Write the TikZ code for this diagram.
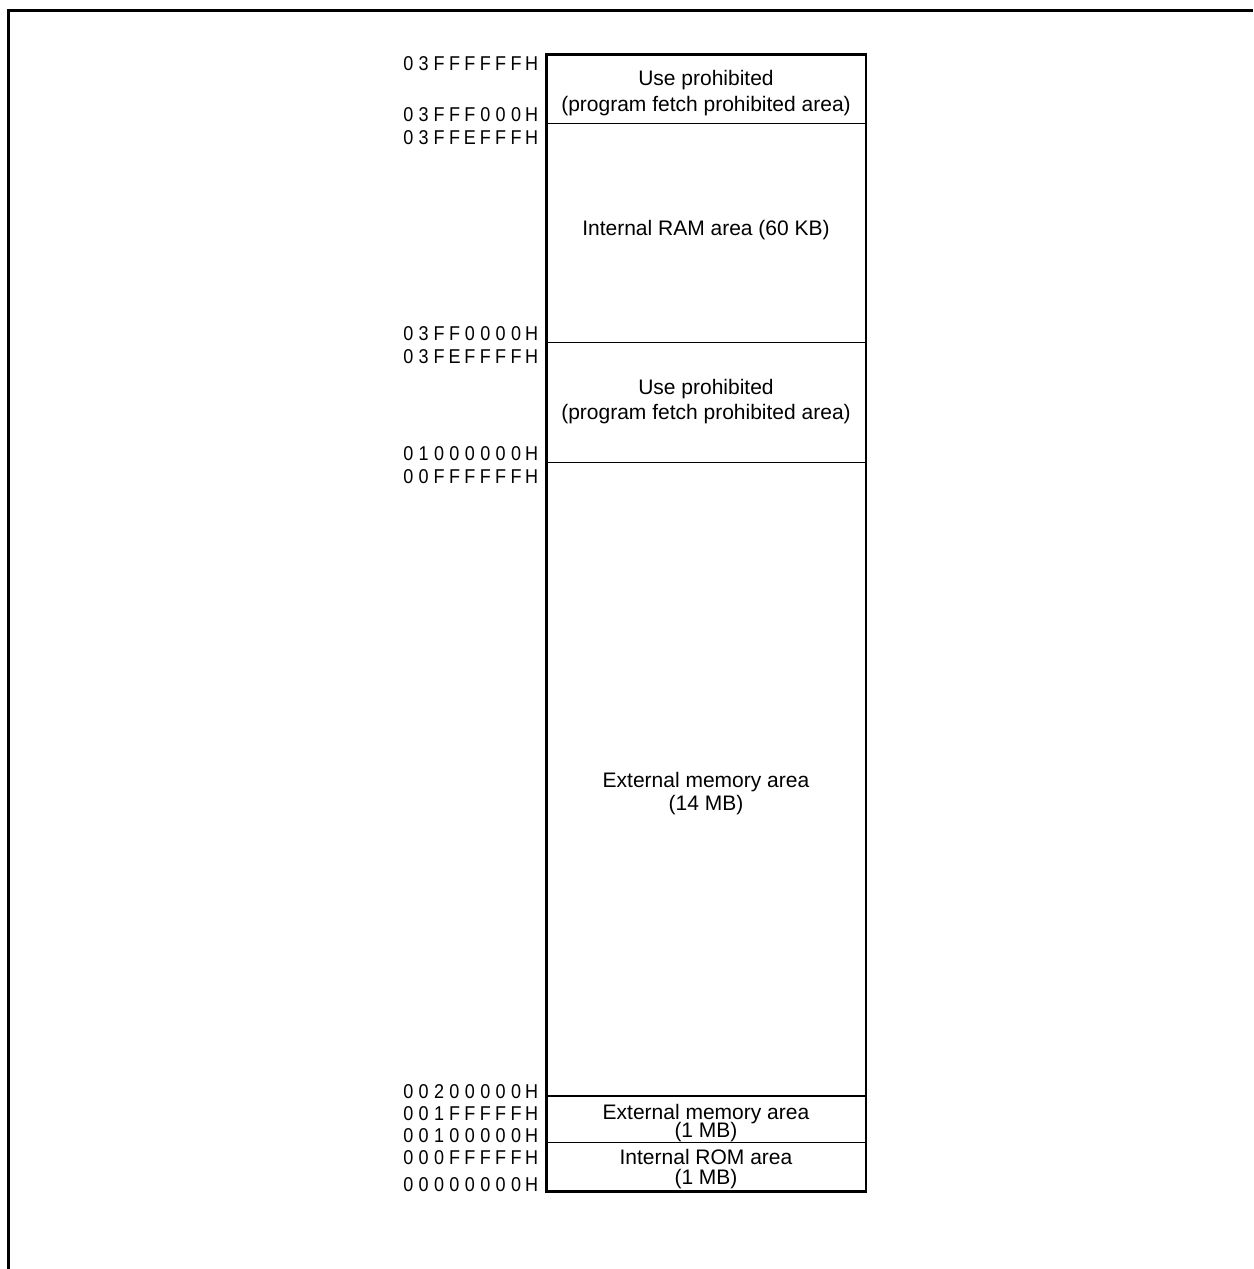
\documentclass[tikz,border=0pt]{standalone}
\usepackage{fontspec}
\usepackage{graphicx}
\setmainfont{Liberation Sans}
\def\addr#1{\addrloop#1\relax}
\def\addrloop#1{\ifx#1\relax\else\makebox[15.4pt][c]{\scalebox{0.9}[1]{#1}}\expandafter\addrloop\fi}
% two centred lines, baseline of the first line, fixed line pitch
\newcommand\twolines[3]{\vtop{\baselineskip=#1\lineskiplimit=-1000pt\lineskip=0pt
  \halign{\hfil##\hfil\cr #2\cr #3\cr}}}
\begin{document}
\begin{tikzpicture}[x=1pt,y=-1pt,
  addr/.style={anchor=base east, inner sep=0pt, font=\fontsize{20}{24}\selectfont},
  area/.style={anchor=base, inner sep=0pt, font=\fontsize{21}{25}\selectfont},
  divider/.style={line width=1.2pt},
  outline/.style={line width=2.7pt},
  frame/.style={line width=3pt}]
\useasboundingbox (0,0) rectangle (1253,1269);
% outer frame (top and left edges)
\coordinate (fbl) at (8.5,1269);
\coordinate (ftl) at (8.5,10.5);
\coordinate (ftr) at (1253,10.5);
\draw[frame] (fbl) -- (ftl) -- (ftr);
% memory map box
\coordinate (tl) at (546.5,54.5);
\coordinate (br) at (866,1191.5);
\draw[outline] (tl) rectangle (br);
\draw[divider] (546.5,123.3) -- (866,123.3);
\draw[divider] (546.5,342.3) -- (866,342.3);
\draw[divider] (546.5,462.7) -- (866,462.7);
\draw[divider] (546.5,1096) -- (866,1096);
\draw[divider] (546.5,1142.3) -- (866,1142.3);
% addresses
\node[addr] (a1) at (539.4,70.9) {\addr{03FFFFFFH}};
\node[addr] (a2) at (539.4,121) {\addr{03FFF000H}};
\node[addr] (a3) at (539.4,144.4) {\addr{03FFEFFFH}};
\node[addr] (a4) at (539.4,340.2) {\addr{03FF0000H}};
\node[addr] (a5) at (539.4,363.2) {\addr{03FEFFFFH}};
\node[addr] (a6) at (539.4,460.6) {\addr{01000000H}};
\node[addr] (a7) at (539.4,483.2) {\addr{00FFFFFFH}};
\node[addr] (a8) at (539.4,1098.6) {\addr{00200000H}};
\node[addr] (a9) at (539.4,1120.2) {\addr{001FFFFFH}};
\node[addr] (a10) at (539.4,1142.2) {\addr{00100000H}};
\node[addr] (a11) at (539.4,1164.6) {\addr{000FFFFFH}};
\node[addr] (a12) at (539.4,1191.6) {\addr{00000000H}};
% area texts
\node[area] (t1) at (706,85.2) {\twolines{26.3pt}{Use prohibited}{(program fetch prohibited area)}};
\node[area] (t3) at (706,235.5) {Internal RAM area (60 KB)};
\node[area] (t4) at (706,394.2) {\twolines{25pt}{Use prohibited}{(program fetch prohibited area)}};
\node[area] (t6) at (706,787.5) {\twolines{23pt}{External memory area}{(14 MB)}};
\node[area] (t8) at (706,1119.2) {\twolines{18.3pt}{External memory area}{(1 MB)}};
\node[area] (t10) at (706,1164.5) {\twolines{20pt}{Internal ROM area}{(1 MB)}};
\end{tikzpicture}
\end{document}
